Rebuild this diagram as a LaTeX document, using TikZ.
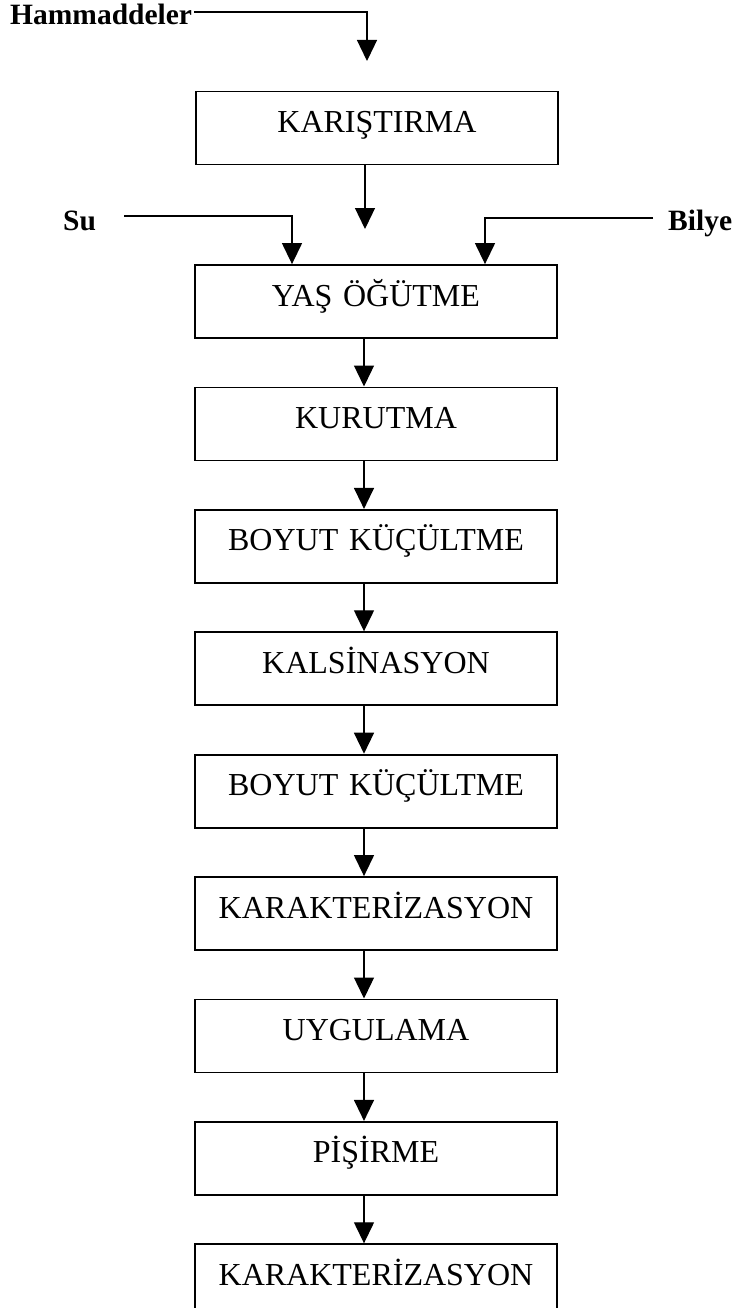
\documentclass[tikz,border=0pt]{standalone}
\usepackage{fontspec}
\setmainfont{Liberation Serif}
\usetikzlibrary{positioning,arrows.meta}
\tikzset{every picture/.style={x=1pt,y=-1pt}}
\tikzset{stage/.style={draw,line width=1.8pt,inner sep=0pt,text width=362pt,align=center,text height=41pt,text depth=32pt,font=\fontsize{32}{38}\selectfont}}
\tikzset{edge/.style={line width=1.3pt,-{Triangle[length=21pt,width=20pt]}}}
\tikzset{feed/.style={inner sep=2pt,font=\fontsize{29.5}{34}\selectfont\bfseries}}
\begin{document}
\begin{tikzpicture}
\useasboundingbox (0,0) rectangle (737,1308);
\node [stage] (k1) at (377,128) {KARIŞTIRMA};
\node [stage] (k2) at (376,301.5) {YAŞ ÖĞÜTME};
\node [stage,below=47.6pt of k2] (k3) {KURUTMA};
\node [stage,below=47.6pt of k3] (k4) {BOYUT KÜÇÜLTME};
\node [stage,below=47.6pt of k4] (k5) {KALSİNASYON};
\node [stage,below=47.6pt of k5] (k6) {BOYUT KÜÇÜLTME};
\node [stage,below=47.6pt of k6] (k7) {KARAKTERİZASYON};
\node [stage,below=47.6pt of k7] (k8) {UYGULAMA};
\node [stage,below=47.6pt of k8] (k9) {PİŞİRME};
\node [stage,below=47.6pt of k9] (k10) {KARAKTERİZASYON};

\node [feed,anchor=base west] (hm) at (8,25) {Hammaddeler};
\node [feed,anchor=base west] (su) at (61,230) {Su};
\node [feed,anchor=base west] (bi) at (666,230) {Bilye};

\coordinate (ax) at (364,0);
\coordinate (hm1) at (367,12);
\coordinate (hm2) at (367,61);
\coordinate (mix) at (365,229);
\coordinate (su1) at (124,216);
\coordinate (su2) at (292,216);
\coordinate (bi1) at (653,218);
\coordinate (bi2) at (485,218);

\draw [edge] (hm.east |- hm1) -- (hm1) -- (hm2);
\draw [edge] (k1.south -| mix) -- (mix);
\draw [edge] (su1) -- (su2) -- (k2.north -| su2);
\draw [edge] (bi1) -- (bi2) -- (k2.north -| bi2);

\draw [edge] (k2.south -| ax) -- (k3.north -| ax);
\draw [edge] (k3.south -| ax) -- (k4.north -| ax);
\draw [edge] (k4.south -| ax) -- (k5.north -| ax);
\draw [edge] (k5.south -| ax) -- (k6.north -| ax);
\draw [edge] (k6.south -| ax) -- (k7.north -| ax);
\draw [edge] (k7.south -| ax) -- (k8.north -| ax);
\draw [edge] (k8.south -| ax) -- (k9.north -| ax);
\draw [edge] (k9.south -| ax) -- (k10.north -| ax);
\end{tikzpicture}
\end{document}
